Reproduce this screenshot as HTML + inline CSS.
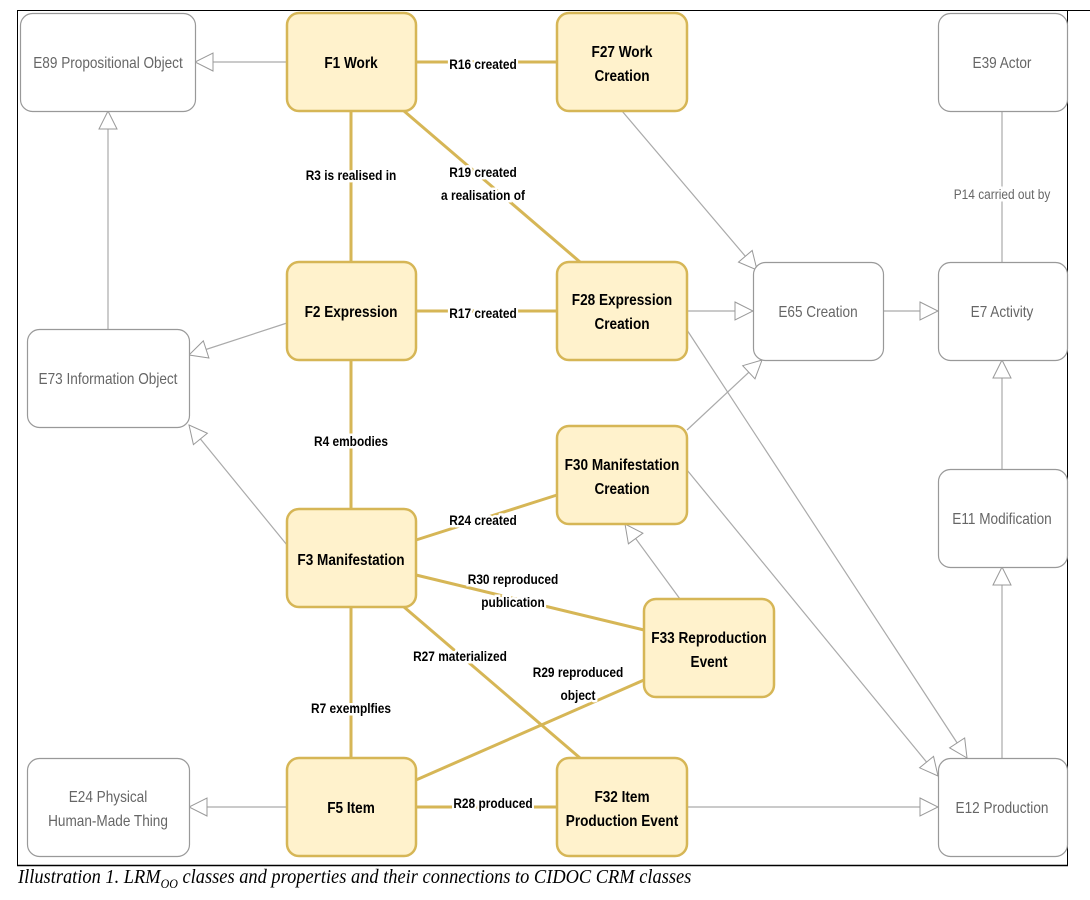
<!DOCTYPE html>
<html><head><meta charset="utf-8"><style>
body{margin:0;background:#fff;width:1090px;height:900px;overflow:hidden;position:relative}
svg{position:absolute;left:0;top:0}
.cap{position:absolute;left:18px;top:866px;font-family:"Liberation Serif",serif;font-style:italic;font-size:20px;color:#000;transform:scaleX(0.92);transform-origin:left}
</style></head><body>
<svg width="1090" height="900" viewBox="0 0 1090 900" font-family="Liberation Sans, sans-serif">
<defs>
<marker id="tri" viewBox="0 0 20 20" refX="19" refY="10" markerWidth="20" markerHeight="20" markerUnits="userSpaceOnUse" orient="auto">
<path d="M1,1 L19,10 L1,19 Z" fill="#fff" stroke="#999" stroke-width="1"/>
</marker>
</defs>
<!-- frame -->
<path d="M17.5,865 L17.5,10.5 L1090,10.5" fill="none" stroke="#000" stroke-width="1"/>
<line x1="17" y1="865.5" x2="1068" y2="865.5" stroke="#000" stroke-width="1.5"/>
<line x1="1067.5" y1="10" x2="1067.5" y2="865" stroke="#000" stroke-width="1"/>

<!-- gray connectors -->
<g stroke="#aaa" stroke-width="1.2" fill="none" marker-end="url(#tri)">
<line x1="287" y1="62" x2="195" y2="62"/>
<line x1="108" y1="329" x2="108" y2="111"/>
<line x1="287" y1="323" x2="189" y2="355"/>
<line x1="287" y1="545" x2="189" y2="425"/>
<line x1="287" y1="807" x2="189" y2="807"/>
<line x1="622" y1="111" x2="757" y2="270"/>
<line x1="687" y1="311" x2="753" y2="311"/>
<line x1="687" y1="430" x2="762" y2="360"/>
<line x1="883" y1="311" x2="938" y2="311"/>
<line x1="1002" y1="469" x2="1002" y2="360"/>
<line x1="1002" y1="758" x2="1002" y2="567"/>
<line x1="687" y1="330" x2="967" y2="758"/>
<line x1="687" y1="470" x2="938" y2="776"/>
<line x1="687" y1="807" x2="938" y2="807"/>
<line x1="680" y1="599" x2="625" y2="524"/>
</g>
<line x1="1002" y1="262" x2="1002" y2="111" stroke="#aaa" stroke-width="1.2"/>

<!-- gold connectors -->
<g stroke="#d6b656" stroke-width="3" fill="none">
<line x1="416" y1="62" x2="557" y2="62"/>
<line x1="404" y1="111" x2="580" y2="262"/>
<line x1="351" y1="111" x2="351" y2="262"/>
<line x1="416" y1="311" x2="557" y2="311"/>
<line x1="351" y1="360" x2="351" y2="509"/>
<line x1="416" y1="540" x2="557" y2="495"/>
<line x1="416" y1="575" x2="644" y2="630"/>
<line x1="404" y1="607" x2="580" y2="758"/>
<line x1="351" y1="607" x2="351" y2="758"/>
<line x1="416" y1="780" x2="644" y2="680"/>
<line x1="416" y1="807" x2="557" y2="807"/>
</g>

<!-- gray boxes -->
<g fill="#fff" stroke="#999" stroke-width="1.2">
<rect x="20.5" y="13.5" width="175" height="98" rx="12"/>
<rect x="938.5" y="13.5" width="129" height="98" rx="12"/>
<rect x="753.5" y="262.5" width="130" height="98" rx="12"/>
<rect x="938.5" y="262.5" width="129" height="98" rx="12"/>
<rect x="27.5" y="329.5" width="162" height="98" rx="12"/>
<rect x="938.5" y="469.5" width="129" height="98" rx="12"/>
<rect x="27.5" y="758.5" width="162" height="98" rx="12"/>
<rect x="938.5" y="758.5" width="129" height="98" rx="12"/>
</g>
<!-- gold boxes -->
<g fill="#fff2cc" stroke="#d6b656" stroke-width="2.5">
<rect x="287" y="13" width="129" height="98" rx="12"/>
<rect x="557" y="13" width="130" height="98" rx="12"/>
<rect x="287" y="262" width="129" height="98" rx="12"/>
<rect x="557" y="262" width="130" height="98" rx="12"/>
<rect x="557" y="426" width="130" height="98" rx="12"/>
<rect x="287" y="509" width="129" height="98" rx="12"/>
<rect x="644" y="599" width="130" height="98" rx="12"/>
<rect x="287" y="758" width="129" height="98" rx="12"/>
<rect x="557" y="758" width="130" height="98" rx="12"/>
</g>

<!-- gray box text -->
<g fill="#666" font-size="16" text-anchor="middle">
<text transform="translate(108,68) scale(0.85,1)">E89 Propositional Object</text>
<text transform="translate(1002,68) scale(0.85,1)">E39 Actor</text>
<text transform="translate(818,317) scale(0.85,1)">E65 Creation</text>
<text transform="translate(1002,317) scale(0.85,1)">E7 Activity</text>
<text transform="translate(108,384) scale(0.85,1)">E73 Information Object</text>
<text transform="translate(1002,524) scale(0.85,1)">E11 Modification</text>
<text transform="translate(108,802) scale(0.85,1)">E24 Physical</text>
<text transform="translate(108,826) scale(0.85,1)">Human-Made Thing</text>
<text transform="translate(1002,813) scale(0.85,1)">E12 Production</text>
</g>
<text transform="translate(1002,199) scale(0.85,1)" fill="#666" font-size="14" text-anchor="middle" stroke="#fff" stroke-width="5" paint-order="stroke">P14 carried out by</text>

<!-- gold box text -->
<g fill="#000" font-size="16" font-weight="bold" text-anchor="middle">
<text transform="translate(351,68) scale(0.85,1)">F1 Work</text>
<text transform="translate(622,57) scale(0.85,1)">F27 Work</text>
<text transform="translate(622,81) scale(0.85,1)">Creation</text>
<text transform="translate(351,317) scale(0.85,1)">F2 Expression</text>
<text transform="translate(622,305) scale(0.85,1)">F28 Expression</text>
<text transform="translate(622,329) scale(0.85,1)">Creation</text>
<text transform="translate(622,470) scale(0.85,1)">F30 Manifestation</text>
<text transform="translate(622,494) scale(0.85,1)">Creation</text>
<text transform="translate(351,565) scale(0.85,1)">F3 Manifestation</text>
<text transform="translate(709,643) scale(0.85,1)">F33 Reproduction</text>
<text transform="translate(709,667) scale(0.85,1)">Event</text>
<text transform="translate(351,813) scale(0.85,1)">F5 Item</text>
<text transform="translate(622,802) scale(0.85,1)">F32 Item</text>
<text transform="translate(622,826) scale(0.85,1)">Production Event</text>
</g>

<!-- edge labels -->
<g fill="#000" font-size="14" font-weight="bold" text-anchor="middle" stroke="#fff" stroke-width="5" paint-order="stroke">
<text transform="translate(483,69) scale(0.85,1)">R16 created</text>
<text transform="translate(483,177) scale(0.85,1)">R19 created</text>
<text transform="translate(483,200) scale(0.85,1)">a realisation of</text>
<text transform="translate(351,180) scale(0.85,1)">R3 is realised in</text>
<text transform="translate(483,318) scale(0.85,1)">R17 created</text>
<text transform="translate(351,446) scale(0.85,1)">R4 embodies</text>
<text transform="translate(483,525) scale(0.85,1)">R24 created</text>
<text transform="translate(513,584) scale(0.85,1)">R30 reproduced</text>
<text transform="translate(513,607) scale(0.85,1)">publication</text>
<text transform="translate(460,661) scale(0.85,1)">R27 materialized</text>
<text transform="translate(578,677) scale(0.85,1)">R29 reproduced</text>
<text transform="translate(578,700) scale(0.85,1)">object</text>
<text transform="translate(351,713) scale(0.85,1)">R7 exemplfies</text>
<text transform="translate(493,808) scale(0.85,1)">R28 produced</text>
</g>
</svg>
<div class="cap">Illustration 1. LRM<sub style="font-size:13px">OO</sub> classes and properties and their connections to CIDOC CRM classes</div>
</body></html>
